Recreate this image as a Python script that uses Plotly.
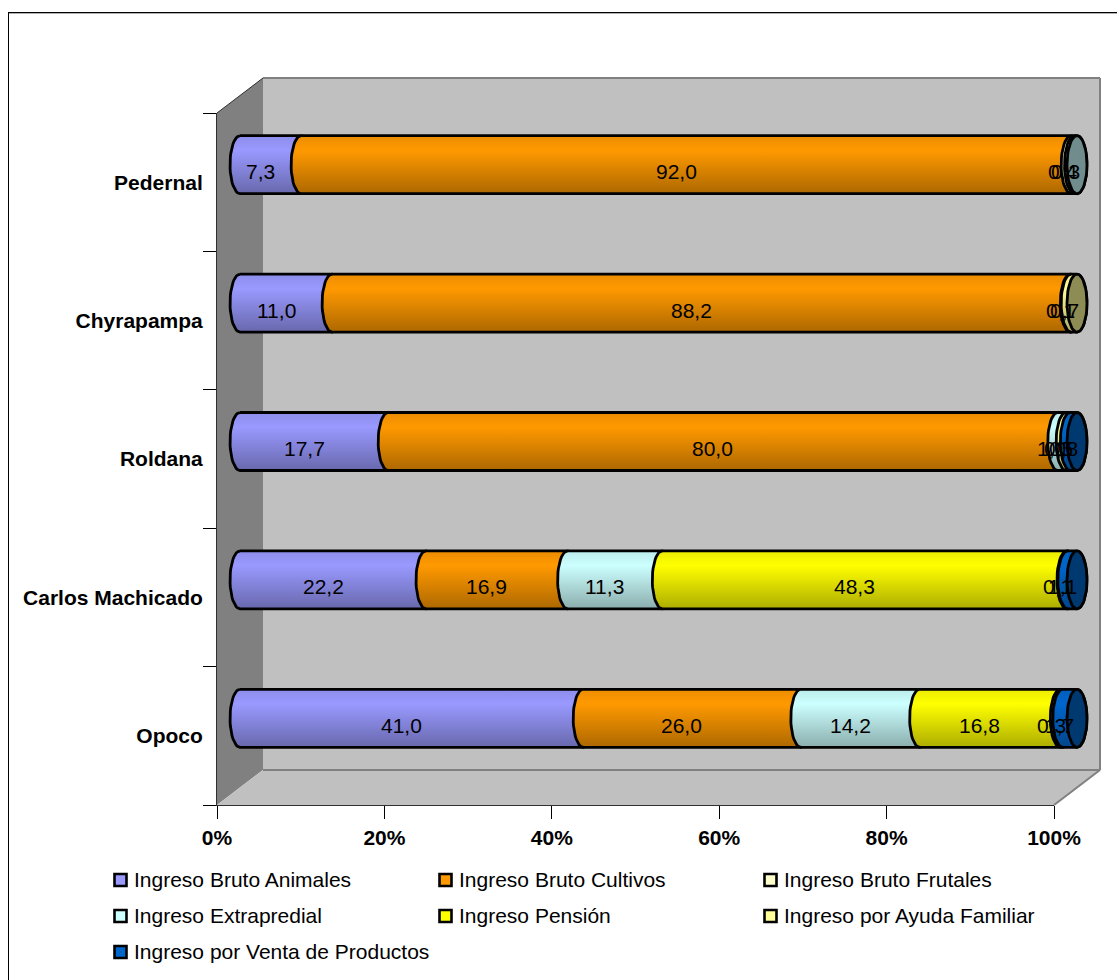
import math
import plotly.graph_objects as go

W, H = 1117, 980

categories = ["Opoco", "Carlos Machicado", "Roldana", "Chyrapampa", "Pedernal"]
series_names = [
    "Ingreso Bruto Animales", "Ingreso Bruto Cultivos", "Ingreso Bruto Frutales",
    "Ingreso Extrapredial", "Ingreso Pensión", "Ingreso por Ayuda Familiar",
    "Ingreso por Venta de Productos",
]
animales = [41.0, 22.2, 17.7, 11.0, 7.3]
cultivos = [26.0, 16.9, 80.0, 88.2, 92.0]
frutales = [0, 0, 0, 0, 0.4]
extrapredial = [14.2, 11.3, 1.0, 0.1, 0.3]
pension = [16.8, 48.3, 0, 0, 0]
ayuda = [0.3, 0.1, 0.5, 0.7, 0]
venta = [1.7, 1.1, 0.8, 0, 0]
series_values = [animales, cultivos, frutales, extrapredial, pension, ayuda, venta]
colors = ["#9999FF", "#FF9900", "#FFFFCC", "#CCFFFF", "#FFFF00", "#FFFF99", "#0066CC"]
x_ticks = [0, 20, 40, 60, 80, 100]

FONT = "Liberation Sans"
# plot box of the front plane, and the 3D depth, in pixels
L, R, T, B = 217, 1054, 113, 805
DX, DY = 46, 35
PAD = 3  # extra x-axis units on the bars' axes so the cylinder ends are not clipped


def px(x):
    return x / W


def py(y):
    return 1 - y / H


def shade(hex_color, k):
    r, g, b = (int(hex_color[i:i + 2], 16) for i in (1, 3, 5))
    return f"rgb({round(r * k)},{round(g * k)},{round(b * k)})"


PX_PER_UNIT = (R - L) / 100
RX = 10 / PX_PER_UNIT        # cylinder end radius, in x-axis units
RY = 29 / ((B - T) / len(categories))   # cylinder radius, in category units
ARC = [i * math.pi / 24 for i in range(25)]

fig = go.Figure()

# keeps the primary (front plane) axes drawn; the marks live on the depth-shifted axes
fig.add_trace(go.Scatter(x=[0], y=[0], xaxis="x", yaxis="y", mode="markers",
                         marker=dict(opacity=0), showlegend=False, hoverinfo="skip"))


def arc(xc, yc, start):
    return ([xc + RX * math.cos(start + a) for a in ARC],
            [yc + RY * math.sin(start + a) for a in ARC])


annotations = []
for row, cat in enumerate(categories):
    total = sum(s[row] for s in series_values)
    cum = 0.0
    last = None
    for name, vals, col in zip(series_names, series_values, colors):
        v = vals[row]
        if v <= 0:
            continue
        x0 = cum / total * 100
        x1 = (cum + v) / total * 100
        ax, ay = arc(x0, row, math.pi / 2)
        bx, by = arc(x1, row, 3 * math.pi / 2)
        fig.add_trace(go.Scatter(
            x=ax + bx + [ax[0]], y=ay + by + [ay[0]],
            xaxis="x2", yaxis="y2", mode="lines", fill="toself", cliponaxis=False,
            line=dict(color="black", width=2.8),
            fillgradient=dict(type="vertical", colorscale=[
                [0, shade(col, 0.68)], [0.75, col], [1, shade(col, 0.92)]]),
            name=name, legendgroup=name, showlegend=False, hoverinfo="name",
        ))
        annotations.append(dict(
            x=(x0 + x1) / 2, y=row, xref="x2", yref="y2", xshift=-10, yshift=-7,
            text=f"{v:.1f}".replace(".", ","), showarrow=False,
            font=dict(family=FONT, size=21, color="black"),
        ))
        cum += v
        last = col
    ex, ey = arc(100, row, 0)
    ex2, ey2 = arc(100, row, math.pi)
    fig.add_trace(go.Scatter(
        x=ex + ex2, y=ey + ey2, xaxis="x2", yaxis="y2", mode="lines", fill="toself",
        cliponaxis=False,
        fillcolor=shade(last, 0.55), line=dict(color="black", width=2.8),
        showlegend=False, hoverinfo="skip",
    ))

# hand-placed legend on a pixel-scaled axis (three columns, fixed row pitch)
LEG_X = [120.5, 445.5, 770.5]
LEG_Y = [880, 916, 952]
for i, (name, col) in enumerate(zip(series_names, colors)):
    fig.add_trace(go.Scatter(
        x=[LEG_X[i % 3]], y=[LEG_Y[i // 3]], xaxis="x3", yaxis="y3", cliponaxis=False,
        mode="markers",
        marker=dict(symbol="square", size=12, color=col, line=dict(color="black", width=2.6)),
        name=name, legendgroup=name, showlegend=False, hoverinfo="name",
    ))
    annotations.append(dict(
        x=LEG_X[i % 3], y=LEG_Y[i // 3], xref="x3", yref="y3", xshift=11, yshift=1, xanchor="left",
        text=name, showarrow=False, font=dict(family=FONT, size=21, color="black"),
    ))


def poly(points, fill, line=None, width=0):
    path = "M" + " L".join(f"{px(x):.5f},{py(y):.5f}" for x, y in points) + " Z"
    return dict(type="path", path=path, xref="paper", yref="paper", fillcolor=fill,
                line=dict(color=line or fill, width=width), layer="below")


def seg(x0, y0, x1, y1, color, width):
    return dict(type="line", xref="paper", yref="paper", x0=px(x0), y0=py(y0),
                x1=px(x1), y1=py(y1), line=dict(color=color, width=width), layer="below")


shapes = [
    poly([(L + DX, T - DY), (R + DX, T - DY), (R + DX, B - DY), (L + DX, B - DY)], "#C0C0C0"),
    poly([(L, T), (L + DX, T - DY), (L + DX, B - DY), (L, B)], "#808080"),
    poly([(L, B), (L + DX, B - DY), (R + DX, B - DY), (R, B)], "#C0C0C0"),
    seg(L + DX, T - DY, R + DX, T - DY, "#808080", 2),
    seg(R + DX, T - DY, R + DX, B - DY, "#808080", 2),
    seg(L + DX, B - DY, R + DX, B - DY, "#808080", 2),
    seg(R, B, R + DX, B - DY, "#808080", 2),
    seg(L, T, L + DX, T - DY, "#303030", 1),
    # the picture's frame only shows along its top and left edges
    seg(8, 13.5, W, 13.5, "#B0B0B0", 1),
    seg(8, 12.5, W, 12.5, "black", 1),
    seg(8.5, 12, 8.5, H, "black", 1),
]

tick_font = dict(family=FONT, size=21, color="black", weight="bold")
fig.update_layout(
    width=W, height=H, margin=dict(l=0, r=0, t=0, b=0), showlegend=False,
    paper_bgcolor="white", plot_bgcolor="rgba(0,0,0,0)", shapes=shapes, annotations=annotations,
    xaxis=dict(domain=[px(L), px(R)], range=[0, 100], tickvals=x_ticks, automargin=False,
               ticktext=[f"{t}%" for t in x_ticks], ticks="outside", ticklen=13, tickwidth=1,
               ticklabelstandoff=1,
               tickcolor="black", showline=True, linecolor="#303030", linewidth=1,
               showgrid=False, zeroline=False, tickfont=tick_font, fixedrange=True),
    yaxis=dict(domain=[py(B), py(T)], range=[-0.5, len(categories) - 0.5], automargin=False,
               tickvals=list(range(len(categories))), ticktext=categories,
               ticks="outside", ticklen=9, tickcolor="rgba(0,0,0,0)",
               minor=dict(tickvals=[i - 0.5 for i in range(len(categories) + 1)], ticks="outside",
                          ticklen=13, tickwidth=1, tickcolor="black"),
               showline=True, linecolor="#303030", linewidth=1, showgrid=False, zeroline=False,
               tickfont=tick_font, fixedrange=True),
    xaxis2=dict(domain=[px(L + DX / 2 - PAD * PX_PER_UNIT), px(R + DX / 2 + PAD * PX_PER_UNIT)],
                range=[-PAD, 100 + PAD], anchor="y2", visible=False, fixedrange=True),
    yaxis2=dict(domain=[py(B - DY / 2), py(T - DY / 2)], range=[-0.5, len(categories) - 0.5],
                anchor="x2", visible=False, fixedrange=True),
    xaxis3=dict(domain=[0, 1], range=[0, W], anchor="y3", visible=False, fixedrange=True),
    yaxis3=dict(domain=[0, 1], range=[H, 0], anchor="x3", visible=False, fixedrange=True),
)

# the page body must not add its default margin around the fixed-size figure
fig.write_html("out.html", config=dict(displayModeBar=False),
               post_script="document.body.style.margin='0';")
